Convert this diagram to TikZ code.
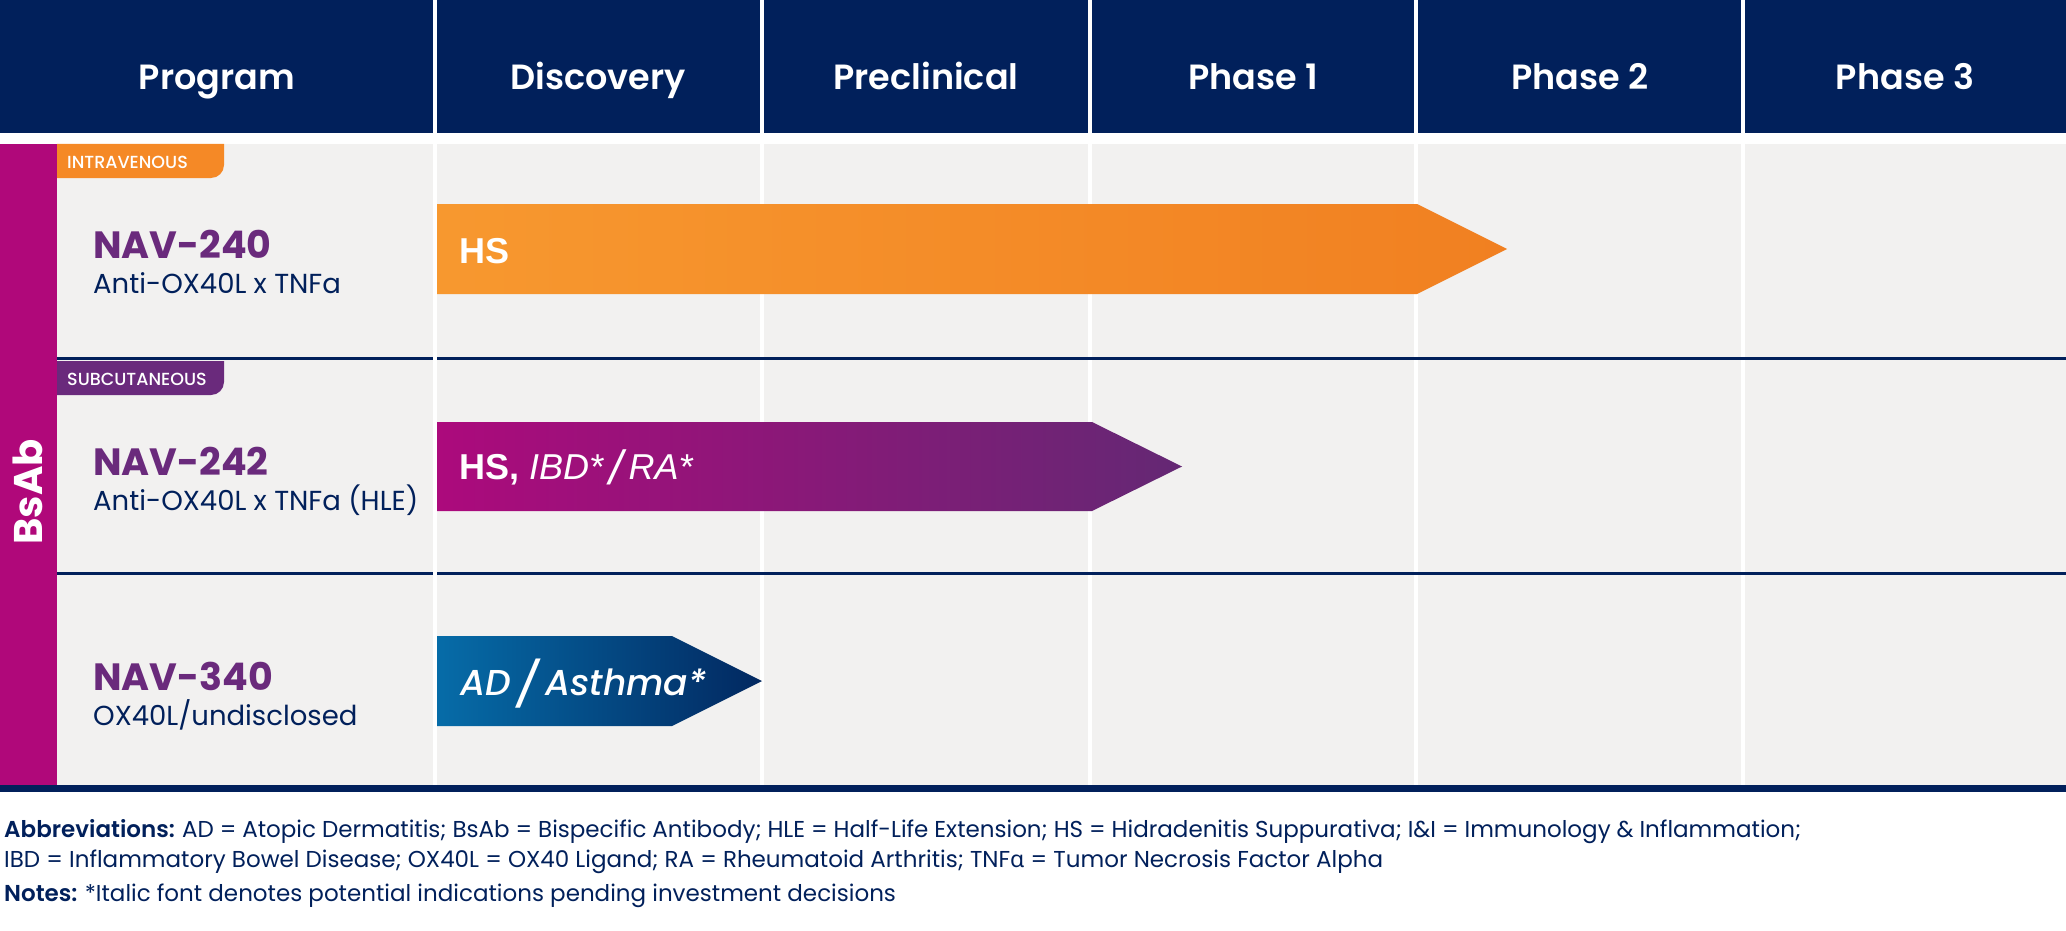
\documentclass[tikz,border=0pt]{standalone}
\usepackage{fontspec}
\setmainfont{Poppins}
\newfontfamily\semifont{Poppins SemiBold}
\newfontfamily\medfont{Poppins Medium}[ItalicFont={Poppins Medium Italic}]
\newfontfamily\arialfont{Liberation Sans}
\newfontfamily\greekfont{Noto Sans}

\definecolor{navy}{RGB}{1,32,91}
\definecolor{cellgray}{RGB}{242,241,240}
\definecolor{bsmag}{RGB}{176,8,122}
\definecolor{navpurple}{RGB}{106,42,124}
\definecolor{ivorange}{RGB}{245,137,38}
\definecolor{orangeA}{RGB}{247,152,47}
\definecolor{orangeB}{RGB}{241,128,33}
\definecolor{purpleA}{RGB}{172,10,124}
\definecolor{purpleB}{RGB}{100,40,116}
\definecolor{blueA}{RGB}{6,108,168}
\definecolor{blueB}{RGB}{2,40,96}

\tikzset{
  hdrtext/.style={text=white, font=\fontsize{35}{40}\selectfont\semifont, anchor=base, inner sep=0},
  progname/.style={text=navpurple, font=\fontsize{38}{44}\selectfont\bfseries, anchor=base west, inner sep=0},
  progsub/.style={text=navy, font=\fontsize{27.5}{30}\selectfont, anchor=base west, inner sep=0},
  routetab/.style={text=white, font=\fontsize{17.5}{20}\selectfont\medfont, anchor=base west, inner sep=0},
  indic/.style={text=white, font=\fontsize{36}{40}\selectfont, anchor=base west, inner sep=0},
  foottext/.style={text=navy, font=\fontsize{23}{27}\selectfont, anchor=base west, inner sep=0},
}
\newcommand\bigslash[1]{\raisebox{-5pt}{\fontsize{#1}{#1}\selectfont/}}

\begin{document}
\begin{tikzpicture}[x=1pt,y=-1pt]
    \useasboundingbox (0,0) rectangle (2066,931);
    % table background
    \fill[navy] (0,0) rectangle (2066,133);
    \fill[cellgray] (57,144) rectangle (2066,785);
    \fill[bsmag] (0,144) rectangle (57,785);
    \foreach \x in {762,1090,1416,1743}
        \draw[white, line width=4] (\x,0) -- (\x,133) (\x,144) -- (\x,785);
    \fill[navy] (57,357) rectangle (2066,360);
    \fill[navy] (57,572) rectangle (2066,575);
    \fill[navy] (0,785) rectangle (2066,792);
    \draw[white, line width=4] (435,0) -- (435,133) (435,144) -- (435,785);

    % column heads
    \foreach \x/\t [count=\i] in {217/Program, 598/Discovery, 926/Preclinical, 1253/Phase 1, 1580/Phase 2, 1905/Phase 3}
        \node[hdrtext] (head\i) at (\x,90) {\t};

    \node[text=white, font=\fontsize{40}{44}\selectfont\bfseries, rotate=90, inner sep=0] (bsab) at (28,492) {BsAb};

    % route tabs
    \fill[ivorange] (57,144) -- (224,144) -- (224,165) arc[start angle=0, end angle=90, radius=13] -- (57,178) -- cycle;
    \node[routetab] (tabiv) at (67,168) {INTRAVENOUS};
    \fill[navpurple] (57,361) -- (224,361) -- (224,382) arc[start angle=0, end angle=90, radius=13] -- (57,395) -- cycle;
    \node[routetab] (tabsc) at (67,385) {SUBCUTANEOUS};

    % programs
    \node[progname] (nav240) at (93,258) {NAV-240};
    \node[progsub] (sub240) at (93,293) {Anti-OX40L x TNFa};
    \node[progname] (nav242) at (93,475) {NAV-242};
    \node[progsub] (sub242) at (93,510) {Anti-OX40L x TNFa (HLE)};
    \node[progname] (nav340) at (93,690) {NAV-340};
    \node[progsub] (sub340) at (93,725) {OX40L/undisclosed};

    % progress arrows
    \shade[left color=orangeA, right color=orangeB] (437,204) -- (1417,204) -- (1507,249) -- (1417,294) -- (437,294) -- cycle;
    \shade[left color=purpleA, right color=purpleB] (437,422) -- (1092,422) -- (1182,466.5) -- (1092,511) -- (437,511) -- cycle;
    \shade[left color=blueA, right color=blueB] (437,636) -- (672,636) -- (762,681) -- (672,726) -- (437,726) -- cycle;
    \node[indic] (ind240) at (459,263) {\arialfont\bfseries HS};
    \node[indic] (ind242) at (459,479) {\arialfont\bfseries HS, \mdseries\itshape IBD*\,\bigslash{48}\,RA*};
    \node[indic] (ind340) at (460,695) {\medfont\itshape AD\,\bigslash{44}\,Asthma*};

    % footnotes
    \node[foottext] (abbr1) at (4,837) {\makebox[1797pt][s]{\semifont Abbreviations: \normalfont AD = Atopic Dermatitis; BsAb = Bispecific Antibody; HLE = Half-Life Extension; HS = Hidradenitis Suppurativa; I\&I = Immunology \& Inflammation;}};
    \node[foottext] (abbr2) at (4,867) {IBD = Inflammatory Bowel Disease; OX40L = OX40 Ligand; RA = Rheumatoid Arthritis; TNF{\greekfont α} = Tumor Necrosis Factor Alpha};
    \node[foottext] (notes) at (4,901) {\semifont Notes: \normalfont *Italic font denotes potential indications pending investment decisions};
\end{tikzpicture}
\end{document}
